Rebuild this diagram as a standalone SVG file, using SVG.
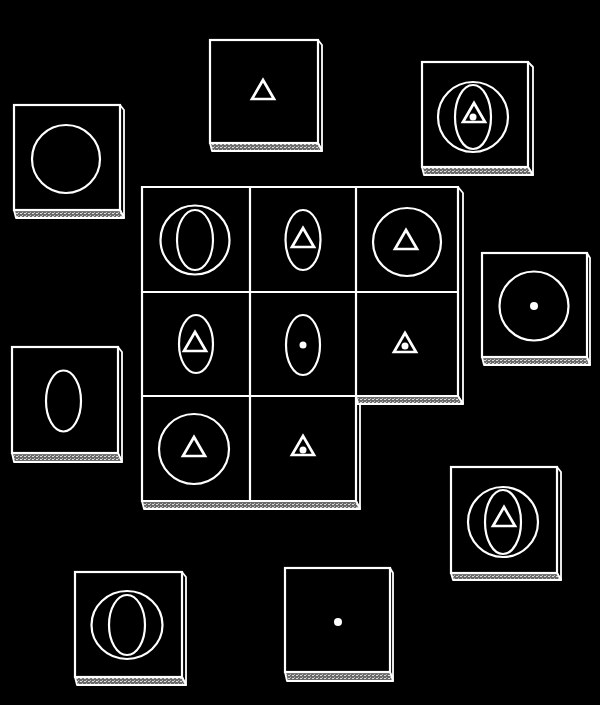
<svg xmlns="http://www.w3.org/2000/svg" width="600" height="705" viewBox="0 0 600 705">
<defs>
<pattern id="hatch" width="4" height="3" patternUnits="userSpaceOnUse">
<rect width="4" height="3" fill="#6a6a6a"/>
<rect x="0" y="0" width="2" height="1" fill="#dddddd"/>
<rect x="2" y="2" width="1" height="1" fill="#bbbbbb"/>
</pattern>
<polygon id="tri" points="0,-10 11,9 -11,9"/>
</defs>
<style>
.ln{fill:none;stroke:#fff;stroke-width:2.2;stroke-linejoin:round}
.tr{fill:none;stroke:#fff;stroke-width:2.7;stroke-linejoin:miter}
.face{fill:#000;stroke:#fff;stroke-width:2.2}
.side{fill:#000;stroke:#fff;stroke-width:1.8;stroke-linejoin:round}
.band{fill:url(#hatch);stroke:#fff;stroke-width:1.8;stroke-linejoin:round}
.dot{fill:#fff;stroke:none}
</style>
<rect width="600" height="705" fill="#000"/>

<!-- main grid -->
<g id="grid">
<polygon class="side" points="458,187 463,193 463,404 458,396"/>
<polygon class="band" points="356,396 458,396 463,404 358,404"/>
<polygon class="side" points="356,404 360,404 360,509 356,501"/>
<polygon class="band" points="142,501 356,501 360,509 144,509"/>
<polygon class="face" points="142,187 458,187 458,396 356,396 356,501 142,501"/>
<line class="ln" x1="250" y1="187" x2="250" y2="501"/>
<line class="ln" x1="356" y1="187" x2="356" y2="396"/>
<line class="ln" x1="142" y1="292" x2="458" y2="292"/>
<line class="ln" x1="142" y1="396" x2="356" y2="396"/>
<circle class="ln" cx="195" cy="240" r="34.5"/>
<ellipse class="ln" cx="195" cy="240" rx="18" ry="30"/>
<ellipse class="ln" cx="303" cy="240" rx="17.5" ry="30"/>
<use href="#tri" class="tr" x="303" y="238"/>
<circle class="ln" cx="407" cy="242" r="34"/>
<use href="#tri" class="tr" x="406" y="240"/>
<ellipse class="ln" cx="196" cy="344" rx="17" ry="29"/>
<use href="#tri" class="tr" x="195" y="342"/>
<ellipse class="ln" cx="303" cy="345" rx="17" ry="30"/>
<circle class="dot" cx="303" cy="345" r="3.5"/>
<use href="#tri" class="tr" x="405" y="343"/>
<circle class="dot" cx="405" cy="346" r="3.5"/>
<circle class="ln" cx="194" cy="449" r="35"/>
<use href="#tri" class="tr" x="194" y="447"/>
<use href="#tri" class="tr" x="303" y="446"/>
<circle class="dot" cx="303" cy="450" r="3.5"/>
</g>

<g id="tile-top">
<polygon class="side" points="318,40 322,45 322,151 318,143"/>
<polygon class="band" points="210,143 318,143 322,151 212,151"/>
<rect class="face" x="210" y="40" width="108" height="103"/>
<use href="#tri" class="tr" x="263" y="90"/>
</g>

<g id="tile-topright">
<polygon class="side" points="528,62 533,67 533,175 528,167"/>
<polygon class="band" points="422,167 528,167 533,175 424,175"/>
<rect class="face" x="422" y="62" width="106" height="105"/>
<circle class="ln" cx="473" cy="117" r="35"/>
<ellipse class="ln" cx="473" cy="117" rx="18" ry="32"/>
<use href="#tri" class="tr" x="474" y="113"/>
<circle class="dot" cx="473" cy="117" r="3.5"/>
</g>

<g id="tile-lefttop">
<polygon class="side" points="120,105 124,110 124,218 120,210"/>
<polygon class="band" points="14,210 120,210 124,218 16,218"/>
<rect class="face" x="14" y="105" width="106" height="105"/>
<circle class="ln" cx="66" cy="159" r="34"/>
</g>

<g id="tile-rightmid">
<polygon class="side" points="587,253 590,258 590,365 587,357"/>
<polygon class="band" points="482,357 587,357 590,365 484,365"/>
<rect class="face" x="482" y="253" width="105" height="104"/>
<circle class="ln" cx="534" cy="306" r="34.5"/>
<circle class="dot" cx="534" cy="306" r="4"/>
</g>

<g id="tile-leftmid">
<polygon class="side" points="118,347 122,352 122,462 118,453"/>
<polygon class="band" points="12,453 118,453 122,462 14,462"/>
<rect class="face" x="12" y="347" width="106" height="106"/>
<ellipse class="ln" cx="63.5" cy="401" rx="17.5" ry="30.5"/>
</g>

<g id="tile-rightlow">
<polygon class="side" points="557,467 561,472 561,580 557,573"/>
<polygon class="band" points="451,573 557,573 561,580 453,580"/>
<rect class="face" x="451" y="467" width="106" height="106"/>
<circle class="ln" cx="503" cy="522" r="35"/>
<ellipse class="ln" cx="503" cy="522" rx="18" ry="32"/>
<use href="#tri" class="tr" x="504" y="517"/>
</g>

<g id="tile-bottomleft">
<polygon class="side" points="182,572 186,577 186,685 182,677"/>
<polygon class="band" points="75,677 182,677 186,685 77,685"/>
<rect class="face" x="75" y="572" width="107" height="105"/>
<ellipse class="ln" cx="127" cy="625" rx="35.5" ry="34"/>
<ellipse class="ln" cx="127" cy="625" rx="18" ry="30"/>
</g>

<g id="tile-bottomcenter">
<polygon class="side" points="390,568 393,573 393,681 390,672"/>
<polygon class="band" points="285,672 390,672 393,681 287,681"/>
<rect class="face" x="285" y="568" width="105" height="104"/>
<circle class="dot" cx="338" cy="622" r="4"/>
</g>
</svg>
